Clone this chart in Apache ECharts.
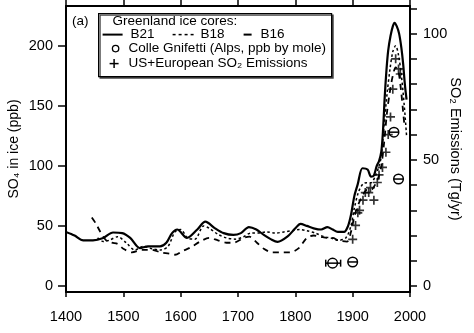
<!DOCTYPE html>
<html><head><meta charset="utf-8">
<script src="https://cdn.jsdelivr.net/npm/echarts@6/dist/echarts.min.js"></script>
<style>html,body{margin:0;padding:0;background:#fff}#c{width:474px;height:333px}</style>
</head><body><div id="c"></div>
<script>
// ---- data ----
const xTickValues = [1400, 1500, 1600, 1700, 1800, 1900, 2000];
const leftTickValues = [0, 50, 100, 150, 200];
const rightTickValues = [0, 10, 20, 30, 40, 50, 60, 70, 80, 90, 100, 110];
const rightLabelValues = [0, 50, 100];

const b21Years = [1400,1415,1430,1447,1465,1482,1498,1512,1529,1543,1564,1575,1585,1594,1611,1629,1643,1660,1675,1692,1705,1719,1732,1745,1757,1769,1786,1800,1809,1820,1832,1845,1856,1865,1874,1885,1892,1897,1903,1909,1917,1926,1932,1937,1942,1946,1950,1953,1956,1959,1962,1966,1970,1973,1977,1981,1985,1988,1991,1994];
const b21Values = [45,42,38,38,40,44.5,44,40,31.5,33,33,36,44,47,40,47,53.5,48,44,42.5,44,49,47,42.5,39,36.7,41,48,51.7,50,48,47,49,47,45,45,50,59,75,85,98,97,91,92,100,104,112,130,158,180,196,208,216,219,216,210,198,185,168,155];

const b18Years = [1455,1465,1475,1490,1505,1520,1535,1550,1565,1578,1590,1600,1612,1625,1640,1650,1665,1680,1695,1710,1722,1735,1750,1765,1780,1795,1808,1820,1835,1850,1862,1875,1888,1897,1903,1910,1918,1925,1932,1940,1946,1950,1955,1960,1965,1970,1975,1980,1985,1990,1994];
const b18Values = [40,37,38,41,36,30,33,31,30,33,45,47,40,39,50,48,43,40,39,41,44,44,45,44,45,46,47,46,44,41,40,38,40,50,65,78,85,86,86,92,100,108,135,160,180,195,200,192,175,150,125];

const b16Years = [1445,1452,1460,1470,1480,1490,1500,1515,1533,1550,1565,1580,1590,1603,1617,1634,1650,1665,1680,1692,1710,1720,1733,1745,1760,1775,1791,1806,1820,1832,1844,1855,1865,1875,1890,1897,1903,1910,1918,1925,1932,1940,1946,1950,1955,1960,1965,1970,1975,1980,1985,1988,1990];
const b16Values = [57,52,45,38,36,35,31,28,30,30,28,27,26,29,32,37,40,38,36,36,40,41,36,31,28,28,28,31.5,40,42,41,40,40,38,37,45,58,68,76,80,80,85,92,100,120,145,162,175,182,178,160,145,135];

const cgYears = [1865, 1900, 1972, 1980];
const cgValues = [19, 20, 128, 89];
const cgLow = [1853, 1900, 1972, 1980];
const cgHigh = [1879, 1900, 1972, 1980];

const emYears = [1900,1905,1909,1912,1918,1922,1928,1931,1937,1943,1946,1952,1958,1962,1966,1970,1975,1980,1983];
const emValues = [18.5,24,29,30,34,37,37,39,34,41,44,47,53,60,67,78,90,86,84];

// ---- chart ----
const FONT = '"Liberation Sans", "DejaVu Sans", Arial, sans-serif';
const pairs = (xs, ys) => xs.map((x, i) => [x, ys[i]]);
const chart = echarts.init(document.getElementById('c'), null, {renderer: 'canvas'});

const axisLineStyle = {color: '#000', width: 2};
const plain = v => String(v);

chart.setOption({
  animation: false,
  backgroundColor: '#fff',
  grid: {left: 66, top: 6, width: 344, height: 286, containLabel: false, outerBoundsMode: 'none'},
  xAxis: [
    {
      type: 'value', position: 'bottom', min: 1400, max: 2000, interval: 100,
      axisLine: {show: true, onZero: false, lineStyle: axisLineStyle},
      axisTick: {show: true, inside: false, length: 5, lineStyle: {color: '#000', width: 1.5}, customValues: xTickValues},
      axisLabel: {show: true, margin: 17, color: '#000', fontSize: 14.5, fontFamily: FONT, customValues: xTickValues, formatter: plain},
      splitLine: {show: false}
    },
    {
      type: 'value', position: 'top', min: 1400, max: 2000, interval: 100,
      axisLine: {show: true, onZero: false, lineStyle: axisLineStyle},
      axisTick: {show: true, inside: false, length: 6, lineStyle: {color: '#000', width: 1.5}, customValues: xTickValues},
      axisLabel: {show: false},
      splitLine: {show: false}
    }
  ],
  yAxis: [
    {
      type: 'value', position: 'left', min: -5, max: 233,
      axisLine: {show: true, onZero: false, lineStyle: axisLineStyle},
      axisTick: {show: true, length: 8, lineStyle: {color: '#000', width: 1.5}, customValues: leftTickValues},
      axisLabel: {show: true, margin: 13, color: '#000', fontSize: 14.5, fontFamily: FONT, customValues: leftTickValues, formatter: plain},
      splitLine: {show: false},
      name: 'SO\u2084 in ice (ppb)', nameLocation: 'middle', nameGap: 45, nameRotate: 90, nameMoveOverlap: false,
      nameTextStyle: {color: '#000', fontSize: 14, fontFamily: FONT}
    },
    {
      type: 'value', position: 'right', min: -2.381, max: 110.95,
      axisLine: {show: true, onZero: false, lineStyle: axisLineStyle},
      axisTick: {show: true, length: 7, lineStyle: {color: '#000', width: 1.5}, customValues: rightTickValues},
      axisLabel: {show: true, margin: 13, color: '#000', fontSize: 14.5, fontFamily: FONT, customValues: rightLabelValues, formatter: plain},
      splitLine: {show: false},
      name: 'SO\u2082 Emissions (Tg/yr)', nameLocation: 'middle', nameGap: 37, nameRotate: -90, nameMoveOverlap: false,
      nameTextStyle: {color: '#000', fontSize: 14.5, fontFamily: FONT}
    }
  ],
  series: [
    {
      name: 'B16', type: 'line', xAxisIndex: 0, yAxisIndex: 0, data: pairs(b16Years, b16Values),
      showSymbol: false, smooth: 0.3, lineStyle: {color: '#000', width: 1.8, type: [6, 5]}, z: 2
    },
    {
      name: 'B18', type: 'line', xAxisIndex: 0, yAxisIndex: 0, data: pairs(b18Years, b18Values),
      showSymbol: false, smooth: 0.3, lineStyle: {color: '#000', width: 1.5, type: [2.5, 2.5]}, z: 2
    },
    {
      name: 'B21', type: 'line', xAxisIndex: 0, yAxisIndex: 0, data: pairs(b21Years, b21Values),
      showSymbol: false, smooth: 0.3, lineStyle: {color: '#000', width: 2.2}, z: 3
    },
    {
      name: 'Colle Gnifetti', type: 'custom', xAxisIndex: 0, yAxisIndex: 0,
      data: cgYears.map((y, i) => [y, cgValues[i], cgLow[i], cgHigh[i]]),
      encode: {x: 0, y: 1},
      renderItem: function (params, api) {
        const c = api.coord([api.value(0), api.value(1)]);
        const lo = api.coord([api.value(2), api.value(1)]);
        const hi = api.coord([api.value(3), api.value(1)]);
        const r = 4.8;
        const x1 = Math.min(lo[0], c[0] - r), x2 = Math.max(hi[0], c[0] + r);
        const children = [
          {type: 'circle', shape: {cx: c[0], cy: c[1], r: r}, style: {fill: '#fff', stroke: '#000', lineWidth: 1.5}},
          {type: 'line', shape: {x1: x1, y1: c[1], x2: x2, y2: c[1]}, style: {stroke: '#000', lineWidth: 1.5}}
        ];
        if (hi[0] - lo[0] > 2 * r) {
          children.push({type: 'line', shape: {x1: lo[0], y1: c[1] - 3.5, x2: lo[0], y2: c[1] + 3.5}, style: {stroke: '#000', lineWidth: 1.5}});
          children.push({type: 'line', shape: {x1: hi[0], y1: c[1] - 3.5, x2: hi[0], y2: c[1] + 3.5}, style: {stroke: '#000', lineWidth: 1.5}});
        }
        return {type: 'group', children: children};
      },
      z: 4
    },
    {
      name: 'Emissions', type: 'scatter', xAxisIndex: 0, yAxisIndex: 1, data: pairs(emYears, emValues),
      symbol: 'path://M3.25,0h1.5v3.25h3.25v1.5h-3.25v3.25h-1.5v-3.25h-3.25v-1.5h3.25z', symbolSize: 9,
      itemStyle: {color: '#000'}, z: 5
    }
  ],
  graphic: [
    {type: 'text', left: 72, top: 14, style: {text: '(a)', font: '13.5px ' + FONT, fill: '#000'}},
    {
      type: 'group', left: 98, top: 13, children: [
        {type: 'rect', shape: {x: 0, y: 0, width: 233, height: 63}, style: {fill: '#fff', stroke: '#000', lineWidth: 1.2, shadowColor: '#444', shadowOffsetX: 1.5, shadowOffsetY: 1.5, shadowBlur: 0}},
        {type: 'text', x: 14, y: 1, style: {text: 'Greenland ice cores:', font: '13.5px ' + FONT, fill: '#000'}},
        {type: 'line', shape: {x1: 4, y1: 21, x2: 24, y2: 21}, style: {stroke: '#000', lineWidth: 2}},
        {type: 'text', x: 32, y: 14, style: {text: 'B21', font: '13.5px ' + FONT, fill: '#000'}},
        {type: 'line', shape: {x1: 74, y1: 21, x2: 95, y2: 21}, style: {stroke: '#000', lineWidth: 1.5, lineDash: [3, 3]}},
        {type: 'text', x: 102, y: 14, style: {text: 'B18', font: '13.5px ' + FONT, fill: '#000'}},
        {type: 'line', shape: {x1: 145, y1: 21, x2: 153, y2: 21}, style: {stroke: '#000', lineWidth: 2}},
        {type: 'text', x: 162, y: 14, style: {text: 'B16', font: '13.5px ' + FONT, fill: '#000'}},
        {type: 'circle', shape: {cx: 17, cy: 35, r: 3.2}, style: {fill: 'none', stroke: '#000', lineWidth: 1.3}},
        {type: 'text', x: 30, y: 28, style: {text: 'Colle Gnifetti (Alps, ppb by mole)', font: '13.5px ' + FONT, fill: '#000'}},
        {type: 'line', shape: {x1: 11, y1: 50, x2: 20, y2: 50}, style: {stroke: '#000', lineWidth: 1.5}},
        {type: 'line', shape: {x1: 15.5, y1: 45.5, x2: 15.5, y2: 54.5}, style: {stroke: '#000', lineWidth: 1.5}},
        {type: 'text', x: 30, y: 43, style: {text: 'US+European SO\u2082 Emissions', font: '13.5px ' + FONT, fill: '#000'}}
      ]
    }
  ]
});
</script>
</body></html>
